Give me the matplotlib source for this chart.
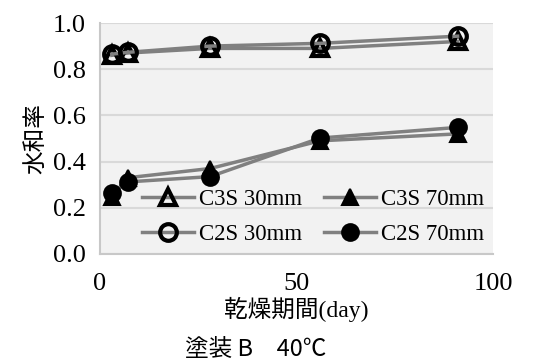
import matplotlib
matplotlib.use('Agg')
import matplotlib.pyplot as plt

# drying period (day)
days = [3, 7, 28, 56, 91]

# hydration ratio
c3s_30 = [0.86, 0.87, 0.89, 0.89, 0.92]
c2s_30 = [0.865, 0.873, 0.90, 0.912, 0.943]
c3s_70 = [0.245, 0.33, 0.37, 0.49, 0.52]
c2s_70 = [0.265, 0.312, 0.335, 0.502, 0.548]

labels = ['C3S 30mm', 'C3S 70mm', 'C2S 30mm', 'C2S 70mm']

plt.rcParams['font.family'] = ['Liberation Serif', 'Noto Sans CJK JP']
cjk = ['Noto Sans CJK JP', 'DejaVu Sans']

fig = plt.figure(figsize=(5.46, 3.63), dpi=100)
ax = fig.add_axes([100 / 546, 1 - 254 / 363, 393 / 546, 231 / 363])
ax.set_facecolor('#f2f2f2')

line_col = '#808080'
kw = dict(color=line_col, linewidth=2.5, markeredgecolor='black', markersize=12)

l1, = ax.plot(days, c3s_30, marker='^', markerfacecolor='none', markeredgewidth=3, **kw)
l3, = ax.plot(days, c2s_30, marker='o', markerfacecolor='none', markeredgewidth=3, **kw)
l2, = ax.plot(days, c3s_70, marker='^', markerfacecolor='black', markeredgewidth=1.5, **kw)
l4, = ax.plot(days, c2s_70, marker='o', markerfacecolor='black', markeredgewidth=1.5, **kw)

ax.set_xlim(0, 100)
ax.set_ylim(0, 1.0)
ax.set_xticks([0, 50, 100])
ax.set_yticks([0, 0.2, 0.4, 0.6, 0.8, 1.0])
ax.set_yticklabels(['0.0', '0.2', '0.4', '0.6', '0.8', '1.0'])
ax.tick_params(length=0, labelsize=19)
ax.tick_params(axis='y', pad=10)
ax.tick_params(axis='x', pad=14)

ax.grid(axis='y', color='#d9d9d9', linewidth=1.5)
ax.set_axisbelow(True)
for side in ['top', 'right']:
    ax.spines[side].set_visible(False)
for side in ['left', 'bottom']:
    ax.spines[side].set_color('#c8c8c8')
    ax.spines[side].set_linewidth(1.5)

ax.set_ylabel('水和率', family=cjk, fontsize=17, labelpad=4)
ax.set_xlabel('乾燥期間(day)', fontsize=17, labelpad=1)

leg = ax.legend([l1, l3, l2, l4], [labels[0], labels[2], labels[1], labels[3]],
                ncol=2, loc='lower right',
                bbox_to_anchor=(1.03, -0.05), frameon=False,
                prop={'size': 16.5}, handlelength=2.3,
                handletextpad=0.2, columnspacing=0.95, labelspacing=0.6)

fig.text(256 / 546, 1 - 349 / 363, '塗装 B　40℃', family=cjk, fontsize=17,
         ha='center', va='center')

fig.savefig('out.png', dpi=100)
plt.close(fig)
